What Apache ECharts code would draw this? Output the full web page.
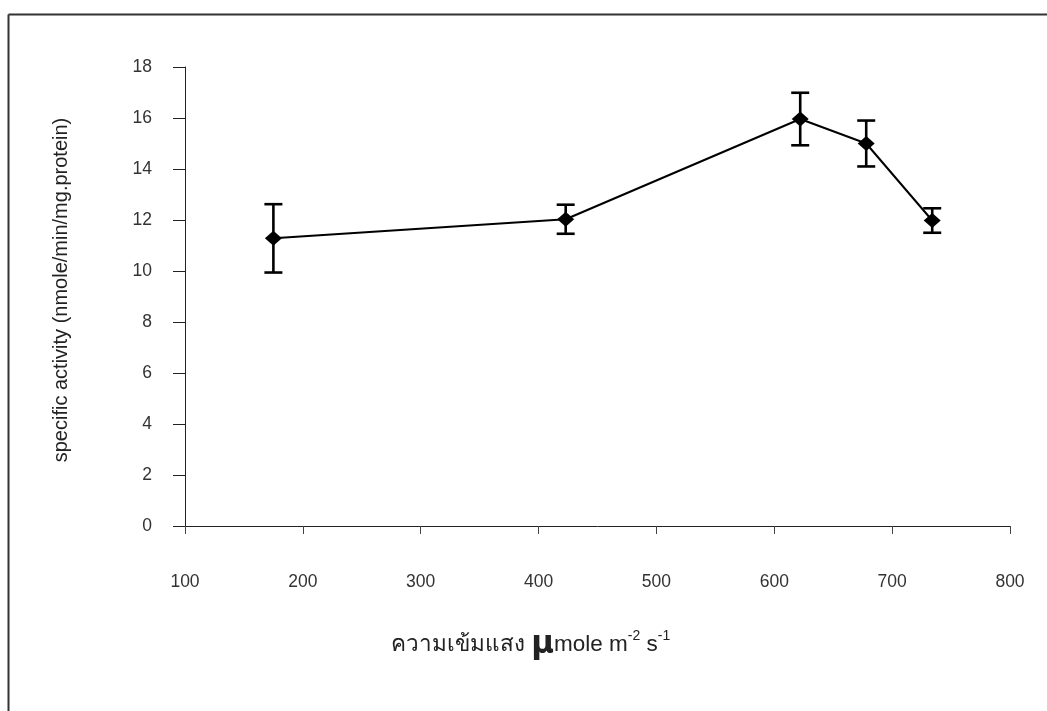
<!DOCTYPE html>
<html>
<head>
<meta charset="utf-8">
<script src="https://cdn.jsdelivr.net/npm/echarts@6/dist/echarts.min.js"></script>
<style>
html,body{margin:0;padding:0;background:#fff;}
#chart{width:1047px;height:711px;}
</style>
</head>
<body>
<div id="chart"></div>
<script>
// Light intensity (µmole m-2 s-1)
const lightIntensity = [175, 423, 622, 678, 734];
// Specific activity (nmole/min/mg.protein)
const specificActivity = [11.28, 12.03, 15.96, 15.0, 11.98];
// Error (± SD)
const errorValues = [1.34, 0.57, 1.03, 0.9, 0.48];
const yTicks = [0, 2, 4, 6, 8, 10, 12, 14, 16, 18];
const xTicks = [100, 200, 300, 400, 500, 600, 700, 800];

const chart = echarts.init(document.getElementById('chart'), null, {renderer: 'canvas'});

const lineData = lightIntensity.map((x, i) => [x, specificActivity[i]]);
const errData = lightIntensity.map((x, i) => [x, specificActivity[i] - errorValues[i], specificActivity[i] + errorValues[i]]);

const FONT = 'Liberation Sans, Arial, sans-serif';

chart.setOption({
  animation: false,
  backgroundColor: '#fff',
  grid: {left: 185, top: 67, right: 37, bottom: 185, containLabel: false},
  xAxis: {
    type: 'value',
    min: xTicks[0], max: xTicks[xTicks.length - 1], interval: 100,
    axisLine: {show: true, lineStyle: {color: '#222', width: 1}},
    axisTick: {show: true, inside: false, length: 8, lineStyle: {color: '#444'}},
    axisLabel: {margin: 47, fontSize: 17.5, color: '#333', fontFamily: FONT},
    splitLine: {show: false}
  },
  yAxis: {
    type: 'value',
    min: yTicks[0], max: yTicks[yTicks.length - 1], interval: 2,
    axisLine: {show: true, lineStyle: {color: '#222', width: 1}},
    axisTick: {show: true, inside: false, length: 12, lineStyle: {color: '#222'}},
    axisLabel: {margin: 33, fontSize: 17.5, color: '#333', fontFamily: FONT},
    splitLine: {show: false}
  },
  graphic: [
    {type: 'line', shape: {x1: 8.5, y1: 14.5, x2: 1047, y2: 14.5}, style: {stroke: '#333', lineWidth: 2}},
    {type: 'line', shape: {x1: 8.5, y1: 14.5, x2: 8.5, y2: 711}, style: {stroke: '#333', lineWidth: 2}},
    {
      type: 'text', x: 61, y: 290, rotation: Math.PI / 2,
      style: {text: 'specific activity (nmole/min/mg.protein)', fontSize: 20, fill: '#222', fontFamily: FONT,
        textAlign: 'center', textVerticalAlign: 'middle'}
    },
    {
      type: 'text', x: 391, y: 645,
      style: {
        text: '{t|ความเข้มแสง }{mu|μ}{t|mole m}{sup|-2}{t| s}{sup|-1}',
        textVerticalAlign: 'middle',
        rich: {
          t: {fontSize: 22.5, fill: '#222', fontFamily: FONT},
          mu: {fontSize: 31, fontWeight: 'bold', fill: '#222', fontFamily: 'DejaVu Sans, ' + FONT},
          sup: {fontSize: 14, fill: '#222', fontFamily: FONT, verticalAlign: 'top', padding: [0, 0, 18, 0]}
        }
      }
    }
  ],
  series: [
    {
      type: 'custom',
      data: errData,
      z: 3,
      renderItem: function (params, api) {
        const x = api.value(0);
        const lo = api.coord([x, api.value(1)]);
        const hi = api.coord([x, api.value(2)]);
        const hw = 9;
        const st = {stroke: '#000', lineWidth: 2.6};
        return {
          type: 'group',
          children: [
            {type: 'line', shape: {x1: lo[0], y1: lo[1], x2: hi[0], y2: hi[1]}, style: st},
            {type: 'line', shape: {x1: hi[0] - hw, y1: hi[1], x2: hi[0] + hw, y2: hi[1]}, style: st},
            {type: 'line', shape: {x1: lo[0] - hw, y1: lo[1], x2: lo[0] + hw, y2: lo[1]}, style: st}
          ]
        };
      }
    },
    {
      type: 'line',
      data: lineData,
      z: 4,
      symbol: 'diamond',
      symbolSize: [17, 15],
      itemStyle: {color: '#000'},
      lineStyle: {color: '#000', width: 2}
    }
  ]
});
</script>
</body>
</html>
